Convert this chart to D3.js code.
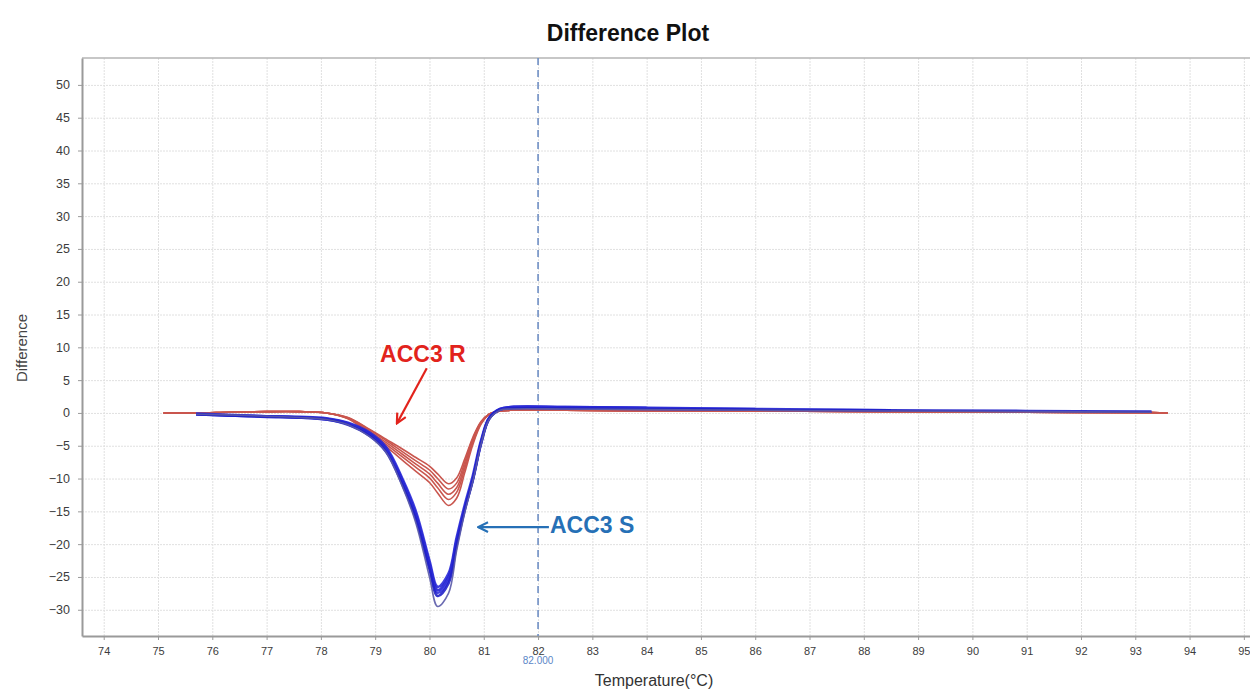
<!DOCTYPE html>
<html>
<head>
<meta charset="utf-8" />
<title>Difference Plot</title>
<style>
body { margin: 0; background: #fff; }
#chart { width: 1250px; height: 690px; }
text { font-family: "Liberation Sans", Arial, sans-serif; }
</style>
</head>
<body>
<div id="chart"></div>
<script src="https://cdnjs.cloudflare.com/ajax/libs/d3/7.8.5/d3.min.js"></script>
<script>
!(function(){
    "use strict"

    // temperature grid shared by every trace
    var temps = [75.1, 75.7, 76.3, 77.0, 77.6, 78.1, 78.5, 78.9, 79.2, 79.5, 79.75, 80.0, 80.15, 80.35,
                 80.5, 80.65, 80.8, 80.95, 81.1, 81.3, 81.5, 82.5, 84.0, 86.0, 88.5, 91.0, 93.3, 93.6]

    // ACC3 R traces (red)
    var r1 = [0, 0, 0.1, 0.2, 0.2, 0, -0.7, -2.5, -4.0, -5.5, -6.8, -8.1, -9.3, -10.8,
              -9.9, -7.0, -3.7, -1.3, -0.2, 0.3, 0.4, 0.4, 0.3, 0.3, 0.2, 0.1, 0.05, 0]
    var r2 = [0, 0, 0.1, 0.2, 0.2, 0, -0.75, -2.6, -4.2, -5.9, -7.3, -8.7, -10.0, -11.6,
              -10.7, -7.5, -3.9, -1.4, -0.2, 0.3, 0.4, 0.4, 0.3, 0.3, 0.2, 0.1, 0.05, 0]
    var r3 = [0, 0, 0.1, 0.2, 0.2, 0, -0.8, -2.8, -4.5, -6.3, -7.8, -9.3, -10.7, -12.4,
              -11.4, -8.0, -4.2, -1.5, -0.2, 0.3, 0.4, 0.4, 0.3, 0.3, 0.2, 0.1, 0.05, 0]
    var r4 = [0, 0, 0.1, 0.2, 0.2, 0, -0.85, -3.0, -4.8, -6.7, -8.3, -9.9, -11.4, -13.2,
              -12.1, -8.5, -4.5, -1.6, -0.2, 0.3, 0.4, 0.4, 0.3, 0.3, 0.2, 0.1, 0.05, 0]
    var r5 = [0, 0, 0.1, 0.2, 0.2, 0, -0.9, -3.2, -5.1, -7.2, -8.9, -10.6, -12.2, -14.1,
              -13.0, -9.1, -4.8, -1.7, -0.2, 0.3, 0.4, 0.4, 0.3, 0.3, 0.2, 0.1, 0.05, 0]

    // ACC3 S traces (blue), some stop early
    var s1 = [null, -0.2, -0.4, -0.5, -0.6, -0.8, -1.5, -3.0, -5.2, -10.0, -15.0, -22.5, -26.5, -24.5,
              -19.0, -14.0, -9.5, -4.2, -0.7, 0.6, 0.9, 0.9, 0.8, null, null, null, null, null]
    var s2 = [null, -0.2, -0.4, -0.5, -0.7, -0.9, -1.6, -3.2, -5.5, -10.3, -15.5, -23.0, -27.0, -25.0,
              -19.5, -14.5, -10.0, -4.5, -0.8, 0.6, 0.9, 0.9, 0.8, 0.6, null, null, null, null]
    var s3 = [null, -0.1, -0.3, -0.5, -0.7, -1.0, -1.7, -3.4, -5.7, -10.6, -15.8, -23.4, -27.4, -25.5,
              -19.8, -14.6, -10.1, -4.6, -0.9, 0.5, 0.8, 0.8, 0.7, 0.6, 0.4, null, null, null]
    var s4 = [null, -0.2, -0.4, -0.6, -0.7, -1.0, -1.8, -3.5, -5.9, -10.9, -16.2, -23.8, -27.9, -26.0,
              -20.2, -14.8, -10.2, -4.7, -0.9, 0.5, 0.7, 0.7, 0.6, 0.5, 0.4, 0.3, 0.2, null]
    var s5 = [null, -0.2, -0.3, -0.5, -0.7, -1.0, -1.8, -3.6, -6.0, -11.2, -16.8, -25.0, -29.5, -27.5,
              -21.0, -15.2, -10.4, -4.8, -1.0, 0.4, 0.6, 0.6, 0.5, 0.4, 0.3, 0.2, 0.1, null]

    var redSeries = [r1, r2, r3, r4, r5]
    var blueSeries = [s1, s2, s3, s4, s5]
    var blueColors = ["#2a2ad8", "#2323d0", "#3030dc", "#2020c8", "#5a5aa8"]

    var xTicks = d3.range(74, 96, 1)
    var yTicks = d3.range(-30, 55, 5)
    var cursorTemp = 82

    // annotations in data units: [temp, diff]
    var labelR = { text: "ACC3 R", at: [79.09, 7.8] }
    var arrowR = [[79.95, 6.8], [79.40, -1.6]]
    var labelS = { text: "ACC3 S", at: [82.22, -18.3] }
    var arrowS = [[82.2, -17.4], [80.9, -17.4]]

    var width = 1250, height = 690
    var margin = {top: 58, left: 82, bottom: 54, right: -2}

    var svg = d3.select("#chart").append("svg")
        .attr("width", width).attr("height", height)

    var x = d3.scaleLinear().domain([73.6, 95.15]).range([margin.left, width - margin.right])
    var y = d3.scaleLinear().domain([-34, 54.1]).range([height - margin.bottom, margin.top])

    svg.append("defs").append("clipPath").attr("id", "plotclip")
        .append("rect")
        .attr("x", margin.left).attr("y", margin.top)
        .attr("width", width - margin.right - margin.left)
        .attr("height", height - margin.bottom - margin.top)

    // grid
    svg.append("g")
        .attr("transform", "translate(0," + (height - margin.bottom) + ")")
        .call(d3.axisBottom(x).tickValues(xTicks).tickSize(-(height - margin.top - margin.bottom)).tickFormat(""))
        .call(function(g) { g.select(".domain").remove() })
        .selectAll("line").attr("stroke", "#e0e0e0").attr("stroke-dasharray", "2,1")

    svg.append("g")
        .attr("transform", "translate(" + margin.left + ",0)")
        .call(d3.axisLeft(y).tickValues(yTicks).tickSize(-(width - margin.left - margin.right)).tickFormat(""))
        .call(function(g) { g.select(".domain").remove() })
        .selectAll("line").attr("stroke", "#e0e0e0").attr("stroke-dasharray", "2,1")

    // frame top
    svg.append("line")
        .attr("x1", margin.left).attr("x2", width)
        .attr("y1", margin.top).attr("y2", margin.top)
        .attr("stroke", "#b4b4b4").attr("stroke-width", 1.5)

    // axes
    var xAxis = svg.append("g")
        .attr("transform", "translate(0," + (height - margin.bottom) + ")")
        .call(d3.axisBottom(x).tickValues(xTicks).tickSize(4).tickSizeOuter(0).tickPadding(7).tickFormat(d3.format("d")))
    var yAxis = svg.append("g")
        .attr("transform", "translate(" + margin.left + ",0)")
        .call(d3.axisLeft(y).tickValues(yTicks).tickSize(4).tickSizeOuter(0).tickPadding(8).tickFormat(d3.format("d")))

    ;[xAxis, yAxis].forEach(function(a) {
        a.select(".domain").attr("stroke", "#9a9a9a").attr("stroke-width", 2)
        a.selectAll(".tick line").attr("stroke", "#9a9a9a")
        a.selectAll(".tick text")
            .attr("fill", "#3c3c3c")
            .style("font-size", "11px")
            .style("font-family", "'Liberation Sans Narrow', 'Liberation Sans', sans-serif")
    })
    yAxis.selectAll(".tick text").style("font-size", "12.5px")

    // cursor line
    svg.append("line")
        .attr("x1", x(cursorTemp)).attr("x2", x(cursorTemp))
        .attr("y1", margin.top).attr("y2", height - margin.bottom)
        .attr("stroke", "#6f8fc4").attr("stroke-width", 1.6)
        .attr("stroke-dasharray", "7,5")
    svg.append("text")
        .attr("x", x(cursorTemp)).attr("y", height - margin.bottom + 28)
        .attr("text-anchor", "middle")
        .attr("fill", "#5b86c8")
        .style("font-size", "10px")
        .style("font-family", "'Liberation Sans Narrow', 'Liberation Sans', sans-serif")
        .text(d3.format(".3f")(cursorTemp))

    // traces
    var line = d3.line()
        .defined(function(d) { return d != null })
        .x(function(d, i) { return x(temps[i]) })
        .y(function(d) { return y(d) })
        .curve(d3.curveCatmullRom.alpha(0.5))

    var plot = svg.append("g").attr("clip-path", "url(#plotclip)")

    plot.selectAll("path.red")
        .data(redSeries)
        .enter().append("path")
        .attr("class", "red")
        .attr("fill", "none")
        .attr("stroke", "#c9564e")
        .attr("stroke-width", 1.6)
        .attr("d", line)

    plot.selectAll("path.blue")
        .data(blueSeries)
        .enter().append("path")
        .attr("class", "blue")
        .attr("fill", "none")
        .attr("stroke", function(d, i) { return blueColors[i] })
        .attr("stroke-width", function(d, i) { return i == 4 ? 1.6 : 2.6 })
        .attr("stroke-opacity", 0.9)
        .attr("d", line)

    // arrow markers
    var defs = svg.select("defs")
    ;[["arrowR", "#e2231c"], ["arrowS", "#2670b6"]].forEach(function(m) {
        defs.append("marker")
            .attr("id", m[0])
            .attr("viewBox", "0 0 10 10")
            .attr("refX", 9).attr("refY", 5)
            .attr("markerWidth", 5.5).attr("markerHeight", 5.5)
            .attr("markerUnits", "strokeWidth")
            .attr("orient", "auto")
            .append("path")
            .attr("d", "M1,1 L9,5 L1,9")
            .attr("fill", "none")
            .attr("stroke", m[1])
            .attr("stroke-width", 1.8)
    })

    svg.append("text")
        .attr("x", x(labelR.at[0])).attr("y", y(labelR.at[1]))
        .attr("fill", "#e2231c")
        .style("font-size", "23px").style("font-weight", "bold")
        .text(labelR.text)
    svg.append("line")
        .attr("x1", x(arrowR[0][0])).attr("y1", y(arrowR[0][1]))
        .attr("x2", x(arrowR[1][0])).attr("y2", y(arrowR[1][1]))
        .attr("stroke", "#e2231c").attr("stroke-width", 2.2)
        .attr("marker-end", "url(#arrowR)")

    svg.append("text")
        .attr("x", x(labelS.at[0])).attr("y", y(labelS.at[1]))
        .attr("fill", "#2670b6")
        .style("font-size", "23px").style("font-weight", "bold")
        .text(labelS.text)
    svg.append("line")
        .attr("x1", x(arrowS[0][0])).attr("y1", y(arrowS[0][1]))
        .attr("x2", x(arrowS[1][0])).attr("y2", y(arrowS[1][1]))
        .attr("stroke", "#2670b6").attr("stroke-width", 2.2)
        .attr("marker-end", "url(#arrowS)")

    // titles
    svg.append("text")
        .attr("x", 628).attr("y", 41)
        .attr("text-anchor", "middle")
        .attr("fill", "#111")
        .style("font-size", "23px").style("font-weight", "bold")
        .text("Difference Plot")

    svg.append("text")
        .attr("transform", "translate(27,348) rotate(-90)")
        .attr("text-anchor", "middle")
        .attr("fill", "#444")
        .style("font-size", "15px")
        .text("Difference")

    svg.append("text")
        .attr("x", 654).attr("y", 686)
        .attr("text-anchor", "middle")
        .attr("fill", "#333")
        .style("font-size", "16px")
        .text("Temperature(°C)")
}());
</script>
</body>
</html>
